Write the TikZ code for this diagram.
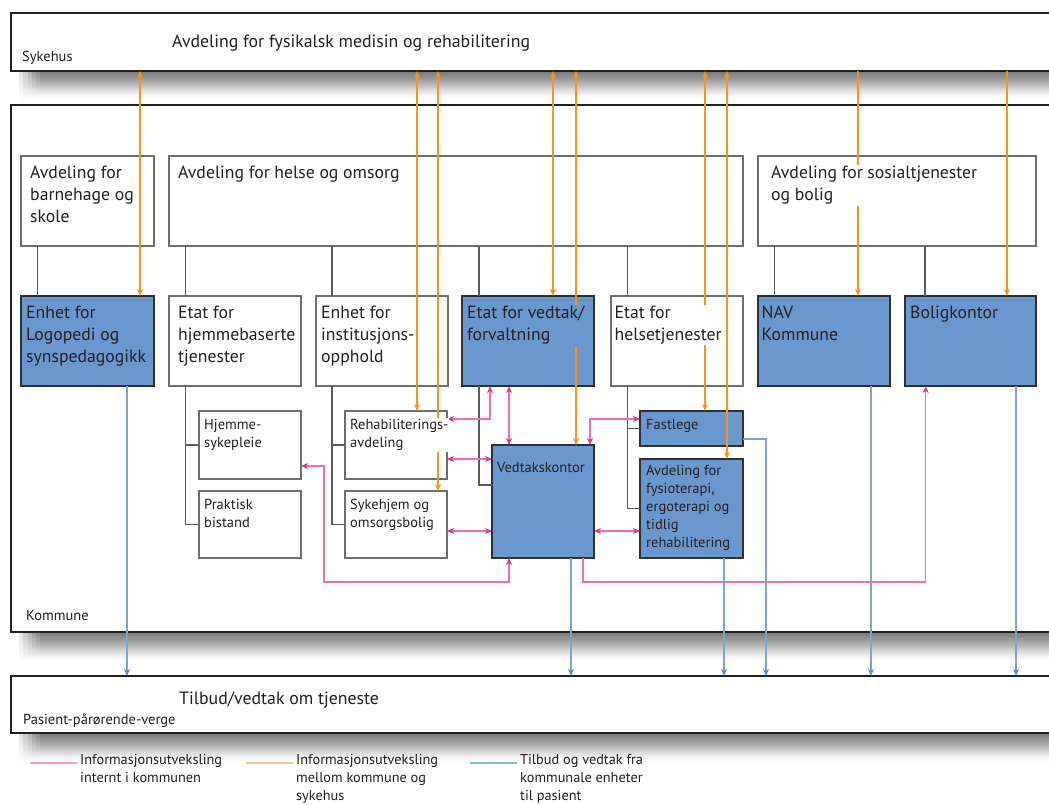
\documentclass[tikz,border=0pt]{standalone}
\usepackage{fontspec}
\setmainfont{PT Sans}
\usetikzlibrary{arrows.meta,fadings}
\definecolor{boxblue}{HTML}{6A97CD}
\definecolor{txt}{HTML}{231F20}
\definecolor{wborder}{HTML}{6D6E71}
\definecolor{bborder}{HTML}{2E3033}
\definecolor{treec}{HTML}{58595B}
\definecolor{pinkc}{HTML}{F06DB4}
\definecolor{pinkh}{HTML}{E8368F}
\definecolor{orangec}{HTML}{F7941D}
\definecolor{bluec}{HTML}{7BA3D8}
\definecolor{bluetip}{HTML}{5B8CCB}
\definecolor{legpink}{HTML}{F49AC8}
\definecolor{legorange}{HTML}{FAC08A}
\definecolor{legblue}{HTML}{8FB4E3}
\tikzfading[name=shfade, top color=transparent!0, bottom color=transparent!100]
\tikzset{
  outerbox/.style={draw=txt, line width=2, fill=white, anchor=north west, inner sep=0, outer sep=0},
  wbox/.style={draw=wborder, line width=1.3, fill=white, anchor=north west, inner sep=0, outer sep=0},
  bbox/.style={draw=bborder, line width=1.3, fill=boxblue, anchor=north west, inner sep=0, outer sep=0},
  tree/.style={draw=treec, line width=1.3},
  bigtxt/.style={anchor=north west, inner sep=1, align=left, text=txt, font=\fontsize{17.7}{22}\selectfont},
  smalltxt/.style={anchor=north west, inner sep=1, align=left, text=txt, font=\fontsize{14.5}{18}\selectfont},
  ontxtw/.style={fill=white},
  ontxtb/.style={fill=boxblue},
  labtxt/.style={anchor=base west, inner sep=0, text=txt, font=\fontsize{14.5}{16}\selectfont},
  headtxt/.style={anchor=base west, inner sep=0, text=txt, font=\fontsize{17.8}{22}\selectfont},
  legtxt/.style={anchor=north west, inner sep=0, align=left, text=txt, font=\fontsize{14.3}{18}\selectfont},
  shadowpart/.style={fill=black, opacity=0.12, path fading=shfade},
  pinkarr/.style={draw=pinkc, line width=1.4, {Stealth[length=7,width=6,inset=2,color=pinkh]}-{Stealth[length=7,width=6,inset=2,color=pinkh]}},
  pinkone/.style={draw=pinkc, line width=1.4, -{Stealth[length=7,width=6,inset=2,color=pinkh]}},
  orarr/.style={draw=orangec, line width=1.3, {Stealth[length=7,width=6,inset=2]}-{Stealth[length=7,width=6,inset=2]}},
  orone/.style={draw=orangec, line width=1.3, -{Stealth[length=7,width=6,inset=2]}},
  bluearr/.style={draw=bluec, line width=1.4, -{Stealth[length=7,width=6,inset=2,color=bluetip]}},
  legline/.style={line width=2.5},
}
\begin{document}
\begin{tikzpicture}[x=1pt, y=-1pt]
\useasboundingbox (0,0) rectangle (1049,805);
% shadows
\foreach \k in {0,...,5} {
  \path[shadowpart] (20+4*\k, 70) rectangle (1060, 100-2*\k);
  \path[shadowpart] (20+4*\k, 631) rectangle (1060, 662-2*\k);
  \path[shadowpart] (20+4*\k, 732) rectangle (1060, 763-2*\k);
}
% outer boxes
\node[outerbox, minimum width=1045, minimum height=58] (syk) at (11,13) {};
\node[outerbox, minimum width=1045, minimum height=527] (kom) at (11,105) {};
\node[outerbox, minimum width=1045, minimum height=57] (pas) at (11,676) {};
% level 1
\node[wbox, minimum width=133, minimum height=90] (barn) at (21,156) {};
\node[wbox, minimum width=574, minimum height=90] (helse) at (169,156) {};
\node[wbox, minimum width=278, minimum height=90] (sos) at (758,156) {};
% level 2
\node[bbox, minimum width=133, minimum height=90] (logo) at (21,296) {};
\node[wbox, minimum width=132, minimum height=90] (hjem) at (169,296) {};
\node[wbox, minimum width=132, minimum height=90] (inst) at (316,296) {};
\node[bbox, minimum width=132, minimum height=90] (vedtak) at (462,296) {};
\node[wbox, minimum width=132, minimum height=90] (helsetj) at (611,296) {};
\node[bbox, minimum width=132, minimum height=90] (nav) at (758,296) {};
\node[bbox, minimum width=131, minimum height=90] (bolig) at (905,296) {};
% level 3
\node[wbox, minimum width=102, minimum height=68] (hsyk) at (199,411) {};
\node[wbox, minimum width=102, minimum height=67] (prak) at (199,491) {};
\node[wbox, minimum width=102, minimum height=68] (rehab) at (345,411) {};
\node[wbox, minimum width=102, minimum height=67] (sykehj) at (345,491) {};
\node[bbox, minimum width=102, minimum height=113] (vkontor) at (492,445) {};
\node[bbox, minimum width=103, minimum height=35] (fast) at (640,411) {};
\node[bbox, minimum width=103, minimum height=99] (fysio) at (640,459) {};
% tree lines
\draw[tree] ([xshift=16.5pt]barn.south west) -- ([xshift=16.5pt]logo.north west);
\draw[tree] ([xshift=16.5pt]hjem.north west |- helse.south) -- ([xshift=16.5pt]hjem.north west);
\draw[tree] ([xshift=16pt]inst.north west |- helse.south) -- ([xshift=16pt]inst.north west);
\draw[tree] ([xshift=17pt]vedtak.north west |- helse.south) -- ([xshift=17pt]vedtak.north west);
\draw[tree] ([xshift=16.6pt]helsetj.north west |- helse.south) -- ([xshift=16.6pt]helsetj.north west);
\draw[tree] ([xshift=16.7pt]nav.north west |- sos.south) -- ([xshift=16.7pt]nav.north west);
\draw[tree] ([xshift=20pt]bolig.north west |- sos.south) -- ([xshift=20pt]bolig.north west);
\coordinate (hjT) at ([xshift=16.5pt]hjem.south west);
\draw[tree] (hjT) |- (prak.west);
\draw[tree] (hsyk.west) -- (hsyk.west -| hjT);
\coordinate (inT) at ([xshift=16pt]inst.south west);
\draw[tree] (inT) |- (sykehj.west);
\draw[tree] (rehab.west) -- (rehab.west -| inT);
\coordinate (veT) at ([xshift=17pt]vedtak.south west);
\draw[tree] (veT) |- ([yshift=-40pt]vkontor.north west);
\coordinate (heT) at ([xshift=16.6pt]helsetj.south west);
\draw[tree] (heT) |- (fysio.west);
\draw[tree] (fast.west) -- (fast.west -| heT);
% orange connectors
\coordinate (o1) at ([xshift=119pt]logo.north west);
\coordinate (o2) at ([xshift=72pt]rehab.north west);
\coordinate (o3) at ([xshift=93pt]sykehj.north west);
\coordinate (o4) at ([xshift=91pt]vedtak.north west);
\coordinate (o5) at ([xshift=84pt]vkontor.north west);
\coordinate (o6) at ([xshift=65pt]fast.north west);
\coordinate (o7) at ([xshift=87pt]fysio.north west);
\coordinate (o8) at ([xshift=100pt]nav.north west);
\coordinate (o9) at ([xshift=102pt]bolig.north west);
\foreach \o in {o1,o2,o3,o4,o5,o6,o7} { \draw[orarr] (\o |- syk.south) -- (\o); }
\draw[orone] (o8 |- syk.south) -- (o8);
\draw[orone] (o9 |- syk.south) -- (o9);
% pink connectors
\coordinate (p1a) at ([yshift=-8pt]rehab.north east);
\coordinate (p1b) at ([xshift=28pt]vedtak.south west);
\draw[pinkarr] (p1a) -| (p1b);
\coordinate (p2a) at ([xshift=47pt]vedtak.south west);
\coordinate (p2b) at ([xshift=17pt]vkontor.north west);
\draw[pinkarr] (p2a) -- (p2b);
\coordinate (p3a) at ([yshift=20pt]rehab.south east);
\draw[pinkarr] (p3a) -- (p3a -| vkontor.west);
\coordinate (p4a) at ([yshift=27pt]sykehj.south east);
\draw[pinkarr] (p4a) -- (p4a -| vkontor.west);
\coordinate (p5a) at ([yshift=13pt]hsyk.south east);
\coordinate (p5b) at ([xshift=17pt]vkontor.south west);
\coordinate (p5c) at ([yshift=-24pt]p5b);
\draw[pinkarr] (p5a) -- ++(23,0) |- (p5c) -- (p5b);
\coordinate (p6a) at ([xshift=-4pt]vkontor.north east);
\coordinate (p6b) at ([yshift=-8pt]fast.north west);
\draw[pinkarr] (p6a) |- (p6b);
\coordinate (p7a) at ([yshift=27pt]vkontor.south east);
\draw[pinkarr] (p7a) -- (p7a -| fysio.west);
\coordinate (p8a) at ([xshift=-11pt]vkontor.south east);
\coordinate (p8b) at ([xshift=20.7pt]bolig.south west);
\draw[pinkone] (p8a) -- ([yshift=-24pt]p8a) -| (p8b);
% blue connectors
\coordinate (b1) at ([xshift=106pt]logo.south west);
\coordinate (b2) at ([xshift=79pt]vkontor.south west);
\coordinate (b3) at ([xshift=84pt]fysio.south west);
\coordinate (b5) at ([xshift=113pt]nav.south west);
\coordinate (b6) at ([xshift=111pt]bolig.south west);
\foreach \b in {b1,b2,b3,b5,b6} { \draw[bluearr] (\b) -- (\b |- pas.north); }
\coordinate (b4) at ([yshift=7pt]fast.south east);
\coordinate (b4c) at ([xshift=23pt]b4);
\draw[bluearr] (b4) -- (b4c) -- (b4c |- pas.north);
% texts
\node[headtxt] (t-syk) at (172,48) {Avdeling for fysikalsk medisin og rehabilitering};
\node[labtxt] (l-syk) at (22,62) {Sykehus};
\node[labtxt] (l-kom) at (26,620) {Kommune};
\node[headtxt] (t-pas) at (179,704) {Tilbud/vedtak om tjeneste};
\node[labtxt] (l-pas) at (23,724) {Pasient-pårørende-verge};
\node[bigtxt, ontxtw] (t-barn) at ([shift={(8,9)}]barn.north west) {Avdeling for\\barnehage og\\skole};
\node[bigtxt, ontxtw] (t-helse) at ([shift={(8,9)}]helse.north west) {Avdeling for helse og omsorg};
\node[bigtxt, ontxtw] (t-sos) at ([shift={(12,9)}]sos.north west) {Avdeling for sosialtjenester\\og bolig};
\node[bigtxt, ontxtb] (t-logo) at ([shift={(4,9)}]logo.north west) {Enhet for\\Logopedi og\\synspedagogikk};
\node[bigtxt, ontxtw] (t-hjem) at ([shift={(8,9)}]hjem.north west) {Etat for\\hjemmebaserte\\tjenester};
\node[bigtxt, ontxtw] (t-inst) at ([shift={(4,9)}]inst.north west) {Enhet for\\institusjons-\\opphold};
\node[bigtxt, ontxtb] (t-vedtak) at ([shift={(4,9)}]vedtak.north west) {Etat for vedtak/\\forvaltning};
\node[bigtxt, ontxtw] (t-helsetj) at ([shift={(2.5,9)}]helsetj.north west) {Etat for\\helsetjenester};
\node[bigtxt, ontxtb] (t-nav) at ([shift={(2.5,9)}]nav.north west) {NAV\\Kommune};
\node[bigtxt, ontxtb] (t-bolig) at ([shift={(4,9)}]bolig.north west) {Boligkontor};
\node[smalltxt, ontxtw] (t-hsyk) at ([shift={(4,7)}]hsyk.north west) {Hjemme-\\sykepleie};
\node[smalltxt, ontxtw] (t-prak) at ([shift={(4,7)}]prak.north west) {Praktisk\\bistand};
\node[smalltxt, ontxtw] (t-rehab) at ([shift={(4,7)}]rehab.north west) {Rehabiliterings-\\avdeling};
\node[smalltxt, ontxtw] (t-sykehj) at ([shift={(4,7)}]sykehj.north west) {Sykehjem og\\omsorgsbolig};
\node[smalltxt, ontxtb] (t-vkontor) at ([shift={(4,16)}]vkontor.north west) {Vedtakskontor};
\node[smalltxt, ontxtb] (t-fast) at ([shift={(5,7)}]fast.north west) {Fastlege};
\node[smalltxt, ontxtb] (t-fysio) at ([shift={(5,5)}]fysio.north west) {Avdeling for\\fysioterapi,\\ergoterapi og\\tidlig\\rehabilitering};
% legend
\coordinate (lg1a) at (30,763); \coordinate (lg1b) at (77,763);
\coordinate (lg2a) at (246,763); \coordinate (lg2b) at (293,763);
\coordinate (lg3a) at (470,763); \coordinate (lg3b) at (517,763);
\draw[legline, legpink] (lg1a) -- (lg1b);
\draw[legline, legorange] (lg2a) -- (lg2b);
\draw[legline, legblue] (lg3a) -- (lg3b);
\node[legtxt] (lt1) at (80,754) {Informasjonsutveksling\\internt i kommunen};
\node[legtxt] (lt2) at (296,754) {Informasjonsutveksling\\mellom kommune og\\sykehus};
\node[legtxt] (lt3) at (520,754) {Tilbud og vedtak fra\\kommunale enheter\\til pasient};
\end{tikzpicture}
\end{document}
